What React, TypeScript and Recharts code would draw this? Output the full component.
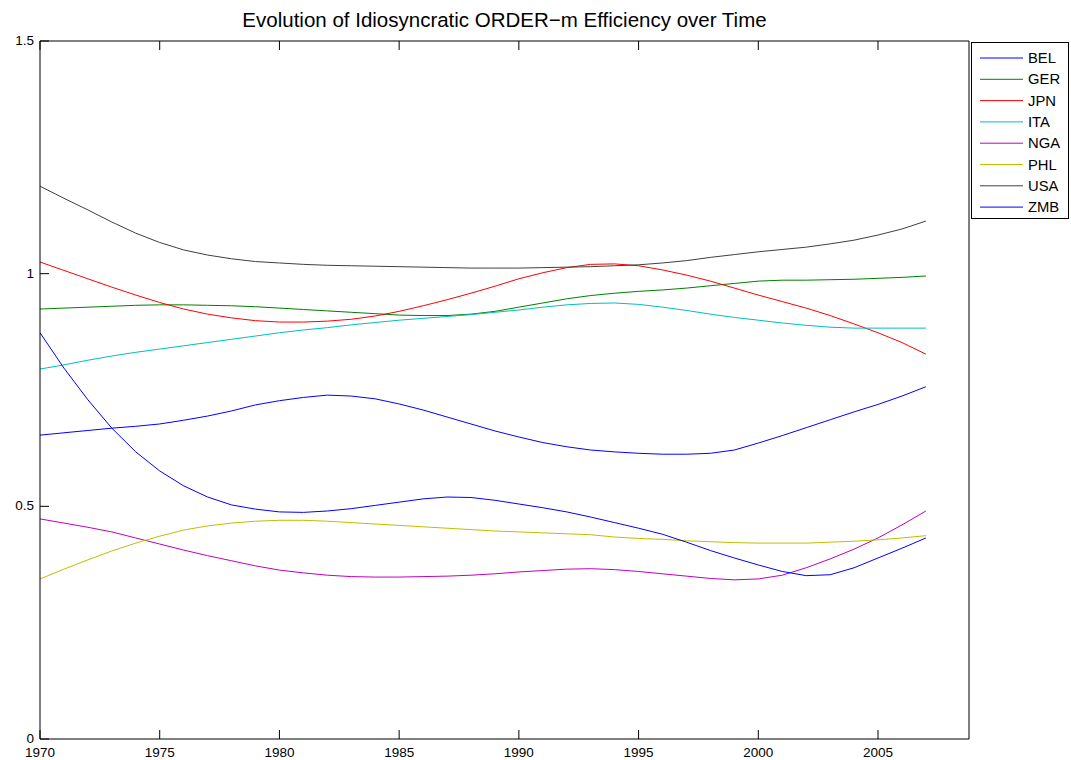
import React from "react";
import { LineChart, Line, XAxis, YAxis } from "recharts";

const years = [
  1970, 1971, 1972, 1973, 1974, 1975, 1976, 1977, 1978, 1979,
  1980, 1981, 1982, 1983, 1984, 1985, 1986, 1987, 1988, 1989,
  1990, 1991, 1992, 1993, 1994, 1995, 1996, 1997, 1998, 1999,
  2000, 2001, 2002, 2003, 2004, 2005, 2006, 2007,
];

const bel = [
  0.653, 0.658, 0.663, 0.668, 0.672, 0.677, 0.685, 0.694, 0.705, 0.718,
  0.727, 0.734, 0.739, 0.737, 0.731, 0.72, 0.707, 0.692, 0.677, 0.662,
  0.649, 0.637, 0.628, 0.621, 0.617, 0.614, 0.612, 0.612, 0.614, 0.621,
  0.636, 0.652, 0.669, 0.686, 0.703, 0.719, 0.737, 0.757,
];
const ger = [
  0.924, 0.926, 0.928, 0.93, 0.932, 0.933, 0.933, 0.932, 0.931, 0.929,
  0.926, 0.923, 0.92, 0.917, 0.914, 0.911, 0.91, 0.91, 0.913, 0.919,
  0.928, 0.937, 0.946, 0.953, 0.958, 0.962, 0.965, 0.969, 0.974, 0.979,
  0.984, 0.986, 0.986, 0.987, 0.988, 0.99, 0.992, 0.995,
];
const jpn = [
  1.025, 1.007, 0.989, 0.971, 0.954, 0.938, 0.924, 0.913, 0.905, 0.899,
  0.896, 0.896, 0.898, 0.902, 0.909, 0.919, 0.931, 0.944, 0.958, 0.973,
  0.989, 1.002, 1.013, 1.02, 1.021, 1.017, 1.008, 0.997, 0.984, 0.969,
  0.954, 0.94, 0.926, 0.91, 0.892, 0.873, 0.852, 0.827,
];
const ita = [
  0.795, 0.804, 0.814, 0.823, 0.831, 0.838, 0.845, 0.852, 0.859, 0.866,
  0.873, 0.879, 0.884, 0.89, 0.895, 0.9, 0.904, 0.908, 0.912, 0.917,
  0.922, 0.928, 0.933, 0.936, 0.937, 0.934, 0.928, 0.921, 0.913, 0.906,
  0.9, 0.894, 0.889, 0.885, 0.883, 0.883, 0.883, 0.883,
];
const nga = [
  0.473, 0.464, 0.455, 0.445, 0.432, 0.419, 0.406, 0.394, 0.383, 0.372,
  0.363, 0.357, 0.352, 0.349, 0.348, 0.348, 0.349, 0.35, 0.352, 0.355,
  0.359, 0.362, 0.365, 0.366, 0.364, 0.36, 0.355, 0.35, 0.345, 0.342,
  0.344, 0.352, 0.368, 0.387, 0.408, 0.432, 0.46, 0.49,
];
const phl = [
  0.344, 0.365, 0.385, 0.404, 0.421, 0.436, 0.449, 0.458, 0.464, 0.468,
  0.47, 0.47, 0.468, 0.465, 0.462, 0.459, 0.456, 0.453, 0.45, 0.447,
  0.445, 0.443, 0.441, 0.439, 0.434, 0.431, 0.429, 0.426, 0.424, 0.422,
  0.421, 0.421, 0.421, 0.423, 0.425, 0.428, 0.432, 0.437,
];
const usa = [
  1.188, 1.162, 1.137, 1.111, 1.087, 1.067, 1.051, 1.04, 1.032, 1.026,
  1.023, 1.02, 1.018, 1.017, 1.016, 1.015, 1.014, 1.013, 1.012, 1.012,
  1.012, 1.013, 1.014, 1.015, 1.017, 1.019, 1.023, 1.028, 1.035, 1.041,
  1.047, 1.052, 1.057, 1.064, 1.072, 1.083, 1.096, 1.113,
];
const zmb = [
  0.873, 0.797, 0.729, 0.668, 0.617, 0.576, 0.544, 0.52, 0.503, 0.494,
  0.488, 0.487, 0.49, 0.495, 0.502, 0.509, 0.516, 0.52, 0.519, 0.513,
  0.505, 0.497, 0.488, 0.477, 0.465, 0.453, 0.44, 0.423, 0.405, 0.389,
  0.374, 0.36, 0.351, 0.353, 0.368, 0.389, 0.41, 0.432,
];

const xTicks = [1970, 1975, 1980, 1985, 1990, 1995, 2000, 2005];
const yTicks = [0, 0.5, 1, 1.5];

const series = [
  { key: "BEL", values: bel, color: "#0000ff" },
  { key: "GER", values: ger, color: "#008000" },
  { key: "JPN", values: jpn, color: "#ff0000" },
  { key: "ITA", values: ita, color: "#00bfbf" },
  { key: "NGA", values: nga, color: "#bf00bf" },
  { key: "PHL", values: phl, color: "#bfbf00" },
  { key: "USA", values: usa, color: "#404040" },
  { key: "ZMB", values: zmb, color: "#0000ff" },
];

const data = years.map((year, i) => {
  const row: Record<string, number> = { year };
  series.forEach((s) => (row[s.key] = s.values[i]));
  return row;
});

const FONT = '"Liberation Sans", Arial, Helvetica, sans-serif';
const TICK = 9;

const BottomTick = (p: any) => (
  <g>
    <line x1={p.x} x2={p.x} y1={p.y} y2={p.y - TICK} stroke="#000" />
    <text x={p.x} y={p.y + 18} textAnchor="middle" fontSize={13.5} fill="#000" fontFamily={FONT}>
      {p.payload.value}
    </text>
  </g>
);

const TopTick = (p: any) => (
  <line x1={p.x} x2={p.x} y1={p.y} y2={p.y + TICK} stroke="#000" />
);

const LeftTick = (p: any) => (
  <g>
    <line x1={p.x} x2={p.x + TICK} y1={p.y} y2={p.y} stroke="#000" />
    <text x={p.x - 6} y={p.y + 4} textAnchor="end" fontSize={13.5} fill="#000" fontFamily={FONT}>
      {p.payload.value}
    </text>
  </g>
);

const RightTick = (p: any) => (
  <line x1={p.x} x2={p.x - TICK} y1={p.y} y2={p.y} stroke="#000" />
);

export default function App() {
  return (
    <div
      style={{
        position: "fixed",
        left: 8,
        top: 8,
        width: 1063,
        height: 752,
        fontFamily: FONT,
        background: "#fff",
      }}
    >
      <div
        style={{
          position: "absolute",
          left: 32,
          width: 929,
          top: 0,
          textAlign: "center",
          fontSize: 20.5,
          lineHeight: "24px",
        }}
      >
        Evolution of Idiosyncratic ORDER−m Efficiency over Time
      </div>
      <LineChart
        width={1063}
        height={752}
        data={data}
        margin={{ top: 32, right: 101, bottom: 0, left: 0 }}
      >
        <XAxis
          dataKey="year"
          type="number"
          domain={[1970, 2008.8]}
          ticks={xTicks}
          height={21}
          tickSize={0}
          tickMargin={0}
          tickLine={false}
          tick={<BottomTick />}
          stroke="#000"
          allowDataOverflow
        />
        <XAxis
          xAxisId="top"
          orientation="top"
          dataKey="year"
          type="number"
          domain={[1970, 2008.8]}
          ticks={xTicks}
          height={1}
          tickSize={0}
          tickMargin={0}
          tickLine={false}
          tick={<TopTick />}
          stroke="#000"
          allowDataOverflow
        />
        <YAxis
          type="number"
          domain={[0, 1.5]}
          ticks={yTicks}
          width={32}
          tickSize={0}
          tickMargin={0}
          tickLine={false}
          tick={<LeftTick />}
          stroke="#000"
        />
        <YAxis
          yAxisId="right"
          orientation="right"
          type="number"
          domain={[0, 1.5]}
          ticks={yTicks}
          width={1}
          tickSize={0}
          tickMargin={0}
          tickLine={false}
          tick={<RightTick />}
          stroke="#000"
        />
        {series.map((s) => (
          <Line
            key={s.key}
            dataKey={s.key}
            name={s.key}
            type="linear"
            stroke={s.color}
            strokeWidth={1}
            dot={false}
            activeDot={false}
            isAnimationActive={false}
          />
        ))}
      </LineChart>
      <svg
        width={99}
        height={178}
        style={{ position: "absolute", left: 963, top: 34 }}
      >
        <rect x={0.5} y={0.5} width={97} height={176} fill="#fff" stroke="#000" />
        {series.map((s, i) => (
          <g key={s.key}>
            <line
              x1={9}
              x2={52}
              y1={16 + i * 21.3}
              y2={16 + i * 21.3}
              stroke={s.color}
            />
            <text x={57} y={16 + i * 21.3 + 5} fontSize={14.8} fontFamily={FONT} fill="#000">
              {s.key}
            </text>
          </g>
        ))}
      </svg>
    </div>
  );
}
